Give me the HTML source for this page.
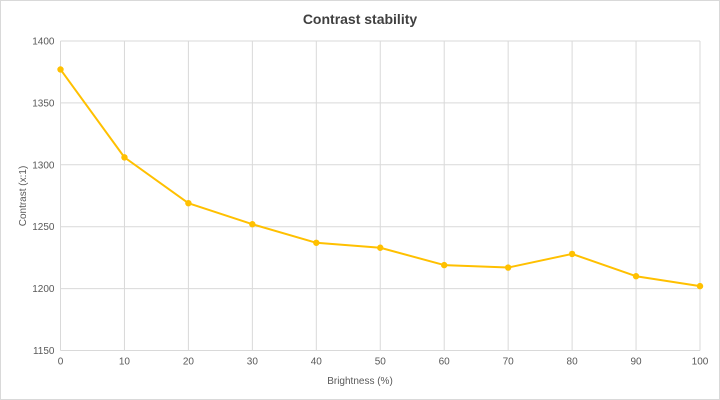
<!DOCTYPE html>
<html><head><meta charset="utf-8"><style>
body{margin:0;background:#fff;}
svg{display:block;font-family:"Liberation Sans",sans-serif;}
</style></head><body>
<svg id="chart" width="720" height="400">
<rect x="0.5" y="0.5" width="719" height="399" fill="#fff" stroke="#d9d9d9"/>
<text x="360" y="24" text-anchor="middle" font-size="14" font-weight="bold" fill="#404040">Contrast stability</text>
<g id="grid"></g>
<g id="ticks"></g>
<text x="360" y="384" text-anchor="middle" font-size="10" fill="#595959">Brightness (%)</text>
<text transform="translate(26,196) rotate(-90)" text-anchor="middle" font-size="10" fill="#595959">Contrast (x:1)</text>
<g id="series"></g>
</svg>
<script>
const categories=[0,10,20,30,40,50,60,70,80,90,100];
const contrastValues=[1377,1306,1269,1252,1237,1233,1219,1217,1228,1210,1202];
const yTickLabels=[1150,1200,1250,1300,1350,1400];
const xTickLabels=[0,10,20,30,40,50,60,70,80,90,100];
const L=60.5,R=700,T=41,B=350.5;
const xs=v=>L+(v-0)/100*(R-L);
const ys=v=>B-(v-1150)/250*(B-T);
const NS='http://www.w3.org/2000/svg';
const grid=document.getElementById('grid'),ticks=document.getElementById('ticks'),ser=document.getElementById('series');
function mk(tag,attrs,parent){const e=document.createElementNS(NS,tag);for(const k in attrs)e.setAttribute(k,attrs[k]);parent.appendChild(e);return e;}
yTickLabels.forEach(v=>{
 const l=mk('line',{x1:L,x2:R,y1:ys(v),y2:ys(v),stroke:'#d9d9d9','stroke-width':1},grid);
 
 
 const t=mk('text',{x:L-6,y:ys(v)+3.5,'text-anchor':'end','font-size':10,fill:'#595959'},ticks);
 t.textContent=v;
 
 
});
xTickLabels.forEach(v=>{
 const l=mk('line',{x1:xs(v),x2:xs(v),y1:T,y2:B,stroke:'#d9d9d9','stroke-width':1},grid);
 
 
 const t=mk('text',{x:xs(v),y:B+14,'text-anchor':'middle','font-size':10,fill:'#595959'},ticks);
 t.textContent=v;
 
 
});
const pts=categories.map((c,i)=>xs(c)+','+ys(contrastValues[i])).join(' ');
const pl=mk('polyline',{points:pts,fill:'none',stroke:'#ffc000','stroke-width':2,'stroke-linejoin':'round'},ser);


categories.forEach((c,i)=>{
 const p=mk('circle',{cx:xs(c),cy:ys(contrastValues[i]),r:3.2,fill:'#ffc000'},ser);
 
 
});
</script>
</body></html>
